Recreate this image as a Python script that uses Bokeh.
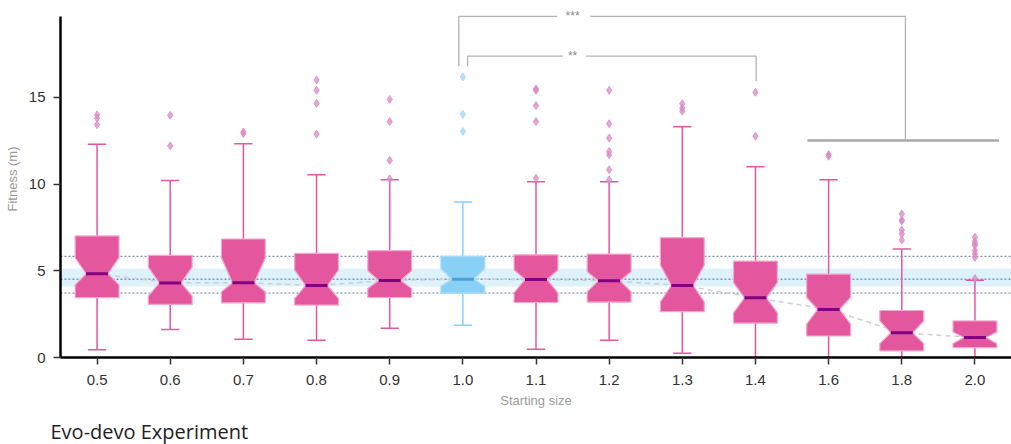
from bokeh.plotting import figure
from bokeh.models import Range1d, FixedTicker, BoxAnnotation, Span, Title, ColumnDataSource
from bokeh.embed import file_html
from bokeh.resources import INLINE

# ---------------- data ----------------
categories = ["0.5", "0.6", "0.7", "0.8", "0.9", "1.0", "1.1", "1.2", "1.3", "1.4", "1.6", "1.8", "2.0"]
whisker_lo = [0.45, 1.61, 1.05, 0.99, 1.69, 1.86, 0.47, 0.99, 0.24, 0.0, 0.0, 0.0, 0.0]
q1 = [3.45, 3.06, 3.15, 3.02, 3.46, 3.71, 3.17, 3.19, 2.65, 1.98, 1.24, 0.38, 0.57]
notch_lo = [4.19, 3.54, 3.79, 3.40, 3.98, 4.10, 3.73, 3.79, 3.21, 2.57, 1.92, 0.80, 0.80]
median = [4.83, 4.30, 4.31, 4.15, 4.44, 4.51, 4.50, 4.42, 4.15, 3.44, 2.77, 1.42, 1.15]
notch_hi = [5.76, 5.21, 5.75, 5.04, 5.00, 5.13, 5.04, 4.94, 5.33, 4.32, 3.46, 2.11, 1.47]
q3 = [7.01, 5.89, 6.83, 6.00, 6.16, 5.83, 5.92, 5.96, 6.91, 5.56, 4.81, 2.71, 2.11]
whisker_hi = [12.30, 10.21, 12.32, 10.53, 10.24, 8.97, 10.13, 10.13, 13.30, 10.99, 10.24, 6.25, 4.46]
outliers = {
    "0.5": [13.99, 13.80, 13.42],
    "0.6": [13.96, 12.20],
    "0.7": [13.00, 12.92],
    "0.8": [16.00, 15.40, 14.65, 12.88],
    "0.9": [14.87, 13.60, 11.36, 10.30],
    "1.0": [16.17, 14.02, 13.03],
    "1.1": [15.48, 15.40, 14.52, 13.60, 10.34],
    "1.2": [15.40, 13.48, 12.65, 11.88, 11.69, 10.82, 10.24],
    "1.3": [14.63, 14.38, 14.20],
    "1.4": [15.29, 12.76],
    "1.6": [11.70, 11.60],
    "1.8": [8.28, 7.93, 7.87, 7.35, 7.12, 6.77],
    "2.0": [6.93, 6.68, 6.54, 6.45, 6.16, 5.97, 5.77, 4.55],
}
y_ticks = [0, 5, 10, 15]
reference = "1.0"
sig_labels = ["***", "**"]
title_text = "Evo-devo Experiment"

# ---------------- style ----------------
PINK = "#e4579e"
PINK_EDGE = "#f3a9cf"
PINK_MED = "#800080"
PINK_OUT = "#d98ac4"
BLUE = "#88d0f6"
BLUE_EDGE = "#a8dcf8"
BLUE_MED = "#4c9fd6"
BLUE_OUT = "#9dd5f5"
BOX_W = 0.6
NOTCH_W = 0.3
CAP_W = 0.25

p = figure(width=1011, height=444, output_backend="svg", toolbar_location=None,
           x_range=Range1d(-0.5, len(categories) - 0.5), y_range=Range1d(0, 20.58),
           min_border_left=60, min_border_right=0, min_border_top=0, min_border_bottom=0)
p.outline_line_color = None
p.xgrid.visible = False
p.ygrid.visible = False
p.background_fill_color = "white"

ref_i = categories.index(reference)

# reference band + dotted lines
p.add_layout(BoxAnnotation(bottom=notch_lo[ref_i], top=notch_hi[ref_i], fill_color="#def2fb",
                           fill_alpha=1.0, line_color=None, level="underlay"))
for v in (q3[ref_i], median[ref_i], q1[ref_i]):
    p.add_layout(Span(location=v, dimension="width", line_color="#7f93b5", line_width=1.3,
                      line_dash="2 2", level="underlay"))

xs_idx = list(range(len(categories)))

# median trend line
p.line(xs_idx, median, line_color="#cfcfcf", line_width=1.5, line_dash="5 4")

# whiskers and caps
for i, c in enumerate(categories):
    col = BLUE if c == reference else PINK
    p.segment(x0=[i, i], y0=[q3[i], q1[i]], x1=[i, i], y1=[whisker_hi[i], whisker_lo[i]],
              line_color=col, line_width=1.5)
    p.segment(x0=[i - CAP_W / 2] * 2, y0=[whisker_hi[i], whisker_lo[i]],
              x1=[i + CAP_W / 2] * 2, y1=[whisker_hi[i], whisker_lo[i]],
              line_color=col, line_width=1.5)

# notched boxes
bx, by, bfill, bline = [], [], [], []
for i, c in enumerate(categories):
    hw, nw = BOX_W / 2, NOTCH_W / 2
    bx.append([i - hw, i - hw, i - nw, i - hw, i - hw, i + hw, i + hw, i + nw, i + hw, i + hw])
    by.append([q1[i], notch_lo[i], median[i], notch_hi[i], q3[i], q3[i], notch_hi[i], median[i], notch_lo[i], q1[i]])
    bfill.append(BLUE if c == reference else PINK)
    bline.append(BLUE_EDGE if c == reference else PINK_EDGE)
p.patches(xs="xs", ys="ys", fill_color="fc", line_color="lc", line_width=1.2,
          source=ColumnDataSource(dict(xs=bx, ys=by, fc=bfill, lc=bline)))

# median bars
p.segment(x0=[i - NOTCH_W / 2 for i in xs_idx], y0=median, x1=[i + NOTCH_W / 2 for i in xs_idx], y1=median,
          line_color=[BLUE_MED if c == reference else PINK_MED for c in categories], line_width=3)

# outliers
ox, oy, oc = [], [], []
for i, c in enumerate(categories):
    for v in outliers[c]:
        ox.append(i)
        oy.append(v)
        oc.append(BLUE_OUT if c == reference else PINK_OUT)
p.scatter(ox, oy, marker="diamond", size=8, fill_color=oc, line_color=oc, fill_alpha=0.75, line_alpha=0.75)

# significance brackets
GREY = "#b3b3b3"
i10 = categories.index("1.0")
i11 = categories.index("1.1")
i14 = categories.index("1.4")
i16 = categories.index("1.6")
i18 = categories.index("1.8")
i20 = categories.index("2.0")
# group line for 1.6-2.0
p.line([i16 - 0.29, i20 + 0.33], [12.51, 12.51], line_color="#a8a8a8", line_width=2.5)
# *** bracket
p.line([i10 - 0.055, i10 - 0.055, i11 + 0.29], [16.79, 19.67, 19.67], line_color=GREY, line_width=1.3)
p.line([i11 + 0.74, i18 + 0.05, i18 + 0.05], [19.67, 19.67, 12.51], line_color=GREY, line_width=1.3)
# ** bracket
p.line([i10 + 0.065, i10 + 0.065, i11 + 0.365], [16.79, 17.37, 17.37], line_color=GREY, line_width=1.3)
p.line([i11 + 0.685, i14 + 0.01, i14 + 0.01], [17.37, 17.37, 15.92], line_color=GREY, line_width=1.3)
p.text(x=[i11 + 0.5, i11 + 0.5], y=[19.67, 17.37], text=sig_labels, text_align="center",
       text_baseline="middle", text_color="#8a8a8a", text_font_size="12px")

# axes
p.xaxis.ticker = FixedTicker(ticks=xs_idx)
p.xaxis.major_label_overrides = {i: c for i, c in enumerate(categories)}
p.yaxis.ticker = FixedTicker(ticks=y_ticks)
p.yaxis.bounds = (0, 19.66)
for ax in (p.xaxis, p.yaxis):
    ax.axis_line_color = "black"
    ax.axis_line_width = 2.5
    ax.major_tick_line_color = "#333333"
    ax.major_tick_line_width = 1.5
    ax.major_tick_out = 7
    ax.major_tick_in = 0
    ax.minor_tick_line_color = None
    ax.major_label_text_font = "Liberation Sans"
    ax.major_label_text_font_size = "15px"
    ax.major_label_text_color = "#333333"
    ax.axis_label_text_font = "Liberation Sans"
    ax.axis_label_text_font_size = "13px"
    ax.axis_label_text_font_style = "normal"
    ax.axis_label_text_color = "#9a9a9a"
p.xaxis.axis_label = "Starting size"
p.yaxis.axis_label = "Fitness (m)"
p.xaxis.major_label_standoff = 10
p.xaxis.axis_label_standoff = 5
p.yaxis.major_label_standoff = 8
p.yaxis.axis_label_standoff = 6

# small spacer between axis and title, then the title itself
p.add_layout(Title(text=" ", text_font_size="1px", standoff=2), "below")
p.add_layout(Title(text=title_text, align="left", text_font="Open Sans",
                   text_font_size="20px", text_font_style="normal", text_color="#222222",
                   offset=-10, standoff=0), "below")

open("out.html", "w").write(file_html(p, INLINE))
